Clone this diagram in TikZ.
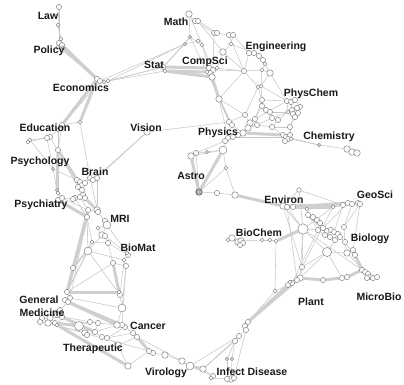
\documentclass[tikz,border=0pt]{standalone}
\usepackage{fontspec}
\setmainfont{Liberation Sans}
\pgfdeclarelayer{bg}
\pgfsetlayers{bg,main}

\begin{document}
\begin{tikzpicture}[x=1pt, y=-1pt, every node/.style={font=\bfseries\fontsize{10.5}{12}\selectfont}]
\tikzstyle{dot}=[circle, draw=black!45, fill=white, line width=0.55pt, inner sep=0pt]
\tikzstyle{link}=[draw=black!22, line width=0.55pt]
\tikzstyle{bund}=[draw=black!19, line width=3pt]
\tikzstyle{lbl}=[text=black!90, inner sep=0pt]
\useasboundingbox (0,0) rectangle (404,384);
\foreach \n/\x/\y/\d in {
  law1/59/7/4, law2/58/25/3,
  pol1/61/39/3, pol2/59/43/4, pol3/62/45/4, pol4/58/47/3, pol5/63/48/3,
  eco1/97/79/4, eco2/100/81/4, eco3/104/82/3, eco4/108/81/3,
  sta1/163/67/4, sta2/165/71/3,
  mat1/189/14/5, mat2/195/21/4, mat3/198/21/4, mat4/190/37/2.5, mat5/185/44/2.5, mat6/198/41/3, mat7/202/45/3,
  top1/214/33/4, top2/217/33/4, top3/229/35/4, top4/233/35/4, top5/231/44/3, top6/223/52/5,
  cs1/209/68/4, cs2/213/70/4, cs3/210/73/4, cs4/212/77/5, cs5/217/68/3, cs6/207/72/3,
  eng1/249/53/4, eng2/254/53/4, eng3/259/56/4, eng4/263/60/4, eng5/265/64/3, eng6/262/70/3, eng7/244/71/4, eng8/270/73/5,
  mid1/258/87/3, mid2/261/86/3, mid3/219/99/5, mid4/262/100/4, mid5/262/106/4, mid6/266/110/4, mid7/270/112/4,
  pc1/287/101/4, pc2/291/102/4, pc3/295/100/4, pc4/300/107/4, pc5/297/108/4, pc6/292/110/4, pc7/293/114/4, pc8/298/113/4, pc9/295/117/4, pc10/288/112/3,
  ph1/245/115/4, ph2/250/123/5, ph3/255/119/4, ph4/248/128/5, ph5/257/125/4, ph6/243/133/5, ph7/238/135/4, ph8/233/137/4, ph9/228/138/4, ph10/225/141/4, ph11/229/122/4, ph12/232/125/4, ph13/223/150/6, ph14/272/118/4, ph15/278/120/4, ph16/272/127/4, ph17/290/127/4, ph18/207/152/2.5, ph19/226/168/3,
  ch1/283/135/4, ch2/286/137/4, ch3/290/135/4, ch4/288/139/4, ch5/285/141/4, ch6/291/139/3, ch7/319/145/2.5, ch8/347/149/5, ch9/352/152/5, ch10/357/153/5,
  vis1/147/132/5,
  ast1/191/156/5, ast2/196/153/4, ast4/217/193/4, ast5/235/195/5,
  env1/299/190/3.5, env2/283/206/5, env3/287/207/4, env4/293/207/4, env5/307/209/3, env6/308/215/4, env7/313/217/4, env8/317/220/4, env9/320/223/4,
  geo1/333/207/3, geo2/343/205/4, geo3/348/203/4, geo4/352/204/4, geo5/358/203/4, geo6/360/204/4, geo7/344/227/4,
  bio1/303/229/8, bio2/323/228/4, bio3/327/231/4, bio4/331/230/4, bio5/334/232/4, bio6/338/234/4, bio7/330/237/4, bio8/325/235/4, bio9/335/240/4, bio10/340/237/4, bio11/345/242/4, bio12/327/252/7, bio13/347/253/5, bio14/353/250/4, bio15/355/255/4, bio16/318/230/4,
  mic1/362/270/4, mic2/365/272/4, mic3/368/274/4, mic4/370/277/4, mic5/373/278/4, mic6/367/278/4, mic7/377/277/4, mic8/342/278/4, mic9/347/277/4, mic10/323/280/4,
  pl1/302/267/4, pl2/300/278/5, pl3/297/280/4, pl4/292/283/4, pl5/288/285/4, pl6/290/282/3,
  bc1/228/240/3, bc2/232/238/5, bc3/238/242/5, bc4/241/241/5, bc5/243/243/4, bc6/240/245/4, bc7/262/240/3, bc8/270/240/3, bc9/276/241/3, bc10/275/291/3,
  inf1/248/322/4, inf2/245/326/4, inf3/246/330/4, inf4/239/336/4, inf13/235/341/4, inf5/232/359/2.5, inf6/227/359/2.5, inf7/203/369/5, inf8/213/376/4, inf12/211/378/3, inf9/231/379/5, inf10/227/379/4, inf11/234/378/4,
  vir1/190/366/6, vir2/182/361/5, vir3/165/355/5, vir4/153/353/4, vir5/149/351/4, vir6/128/366/5, vir7/118/345/5,
  can1/137/337/4, can2/133/333/4, can3/125/327/4, can4/122/325/4, can5/117/325/5, can6/122/308/6, can7/120/295/4, can8/119/292/3,
  bm1/113/263/4, bm2/126/266/4, bm3/124/260/3, bm4/128/255/4, bm5/127/253/3,
  th1/107/338/4, th2/102/337/4, th3/98/323/4, th4/90/322/4, th5/79/326/7, th6/85/333/5, th7/87/335/4, th8/95/332/4,
  gm1/73/268/4, gm2/88/251/6, gm3/67/292/4, gm4/70/298/4, gm5/65/300/4, gm6/68/302/4, gm7/60/310/4, gm8/57/315/4, gm9/62/317/4, gm10/50/318/5, gm11/42/318/4, gm12/40/322/4, gm13/48/323/5, gm14/55/323/4, gm15/57/325/3,
  mri1/88/210/4, mri2/97/210/5, mri3/98/212/4, mri4/87/217/4, mri5/105/221/4, mri6/107/225/6, mri7/98/228/3, mri8/102/235/5, mri9/105/236/4, mri10/108/243/4, mri11/92/242/3,
  br1/77/180/4, br2/80/182/4, br3/82/185/4, br4/78/187/4, br5/85/183/4, br6/90/178/4, br7/93/180/4, br8/97/178/4, br9/82/190/4, br10/83/195/4, br11/80/197/4, br12/75/198/4, br13/73/199/4, br14/85/198/4,
  psy1/58/200/4, psy2/62/198/4, psy3/57/190/2.5, psy4/58/193/3, psy5/53/169/2.5,
  edu1/80/122/3, edu2/62/125/4, edu3/58/130/3, edu4/50/137/4, edu5/47/138/4, edu6/30/140/3, edu7/28/142/3, edu8/58/150/4}
  \node[dot, minimum size=1.3*\d] (\n) at (\x,\y) {};
\node[dot, minimum size=6.5, draw=black!70, fill=black!30] (ast3) at (199,192) {};

\begin{pgfonlayer}{bg}
\foreach \a/\b in {
  law1/law2, law2/pol1, law1/pol2, law2/pol3, pol1/pol2, pol2/pol3, pol3/pol5, pol4/pol2, pol4/eco2,
  eco1/eco2, eco2/eco3, eco3/eco4, eco4/sta1, eco3/sta1, eco4/sta2, eco2/mat5, eco4/mat5,
  sta1/sta2, sta1/mat4, sta1/mat5,
  mat1/mat2, mat2/mat3, mat1/mat4, mat4/mat5, mat5/mat6, mat6/mat7, mat4/mat7, mat2/top1, mat3/top2, mat3/top6, mat7/cs1, mat1/cs2, mat4/cs6,
  top1/top2, top2/top3, top3/top4, top4/top5, top5/top6, top6/cs5, top1/cs2, top4/eng1, top5/eng2, top3/eng7, top6/eng7,
  cs1/cs2, cs2/cs3, cs3/cs4, cs4/cs6, cs5/cs2, cs1/cs6, cs3/mid3, cs5/eng7, cs2/eng7, cs4/ph11, cs6/ph12,
  eng1/eng2, eng2/eng3, eng3/eng4, eng4/eng5, eng5/eng6, eng6/eng8, eng7/eng6, eng7/mid1, eng6/mid2, eng8/mid2, eng5/eng8, eng8/pc1, eng7/mid3, eng1/eng7,
  mid1/mid2, mid1/mid4, mid2/mid4, mid4/mid5, mid5/mid6, mid6/mid7, mid3/ph11, mid3/ph1, mid3/ph12, mid1/ph1, mid4/ph3, mid5/ph3, mid7/pc10, mid7/ph14, mid4/pc1, mid2/pc1,
  pc1/pc2, pc2/pc3, pc3/pc4, pc4/pc5, pc5/pc6, pc6/pc7, pc7/pc8, pc8/pc9, pc9/pc10, pc10/pc1, pc2/pc6, pc9/ph17, pc7/ch3, pc10/ph15, ph3/pc1, ph14/pc10,
  ph1/ph2, ph2/ph3, ph3/ph5, ph2/ph4, ph4/ph5, ph4/ph6, ph6/ph7, ph7/ph8, ph8/ph9, ph9/ph10, ph10/ph13, ph11/ph12, ph12/ph9, ph12/ph6, ph5/ph14, ph14/ph15, ph15/ph16, ph16/ph17, ph16/ch1, ph17/ch3, ph5/ph16, ph8/ch2,
  ph13/ph19, ph13/ast1, ph18/ph13, ph18/ast2, ph10/ast2, vis1/ph11, ph11/ph1, ph2/ph6, mid3/ph9,
  ch1/ch2, ch2/ch3, ch3/ch4, ch4/ch5, ch5/ch1, ch4/ch6, ch6/ch7, ch7/ch8, ch2/ch7, ch8/ch9, ch9/ch10,
  vis1/br8, vis1/br7,
  ast1/ast2, ast2/ast3, ast3/ast4, ast4/ast5, ph19/ast5, ph19/ast3, ast5/env3,
  env1/env2, env1/geo2, env1/bio1, env2/env3, env3/env4, env4/env5, env5/env6, env6/env7, env7/env8, env8/env9, env4/geo1, env5/geo1, env2/bio1, env3/bio1, env9/bio2, env6/bio16,
  geo1/geo2, geo2/geo3, geo3/geo4, geo4/geo5, geo5/geo6, geo4/geo7, geo6/geo7, geo2/bio5, geo3/bio2, geo7/bio11, geo6/bio14, geo1/bio1,
  bio2/bio3, bio3/bio4, bio4/bio5, bio5/bio6, bio6/bio10, bio10/bio11, bio11/bio13, bio13/bio14, bio14/bio15, bio7/bio8, bio8/bio16, bio16/bio2, bio7/bio9, bio9/bio10, bio3/bio7,
  bio1/bio16, bio1/bio12, bio12/bio9, bio12/bio13, bio1/pl1, bio1/pl2, bio12/pl2, bio12/mic8, bio13/mic2, bio11/mic3, bio1/mic1, env2/pl1, env3/pl3, geo1/pl1, bio16/pl4, bio12/pl1,
  mic1/mic2, mic2/mic3, mic3/mic4, mic4/mic5, mic5/mic7, mic6/mic3, mic6/mic4, mic8/mic9,
  pl1/pl2, pl2/pl3, pl3/pl4, pl4/pl5, pl5/pl6, pl6/pl2,
  bc1/bc2, bc2/bc3, bc3/bc4, bc4/bc5, bc5/bc6, bc6/bc3, bc4/bc7, bc7/bc8, bc8/bc9, bc9/bc10, bc10/pl5, bc10/inf1,
  inf1/inf2, inf3/inf4, inf4/inf13, inf13/inf5, inf5/inf9, inf6/inf10, inf13/inf6, inf4/inf7, inf13/inf7, inf7/inf8, inf8/inf12, inf12/inf10, inf10/inf9, inf9/inf11, inf11/inf3,
  vir1/inf8, vir1/inf4, vir1/vir2, vir2/vir3, vir3/vir4, vir4/vir5, vir4/can2, vir6/vir7, vir6/vir5, vir7/th1, vir7/can1, vir2/can1,
  can1/can2, can2/can3, can3/can4, can4/can5, can5/can6, can6/can7, can7/can8, can6/bm2, can7/bm3, can4/bm2, can3/th1, can5/th8, can5/th3, can2/th1,
  bm1/bm2, bm2/bm3, bm3/bm4, bm4/bm5, bm5/mri9, bm4/mri10, bm1/mri10, bm5/mri6,
  th1/th2, th2/th8, th8/th7, th7/th6, th6/th5, th5/th4, th4/th3, th3/th8,
  gm1/gm2, gm2/gm3, gm1/gm3, gm3/gm4, gm4/gm5, gm5/gm6, gm6/gm7, gm7/gm8, gm8/gm9, gm9/gm10, gm10/gm11, gm11/gm12, gm12/gm13, gm13/gm14, gm14/gm15, gm15/gm9,
  gm4/can6, gm2/can7, gm3/bm1, gm2/bm3, gm9/th3, gm13/th6, gm15/th4, gm12/th5, gm13/vir5,
  gm1/mri11, gm2/mri4, gm3/mri11, gm1/mri8, gm4/mri4,
  mri1/mri2, mri2/mri3, mri3/mri5, mri5/mri6, mri6/mri7, mri7/mri8, mri8/mri9, mri9/mri10, mri10/mri11, mri11/mri4, mri4/mri1, mri8/mri6,
  br1/br2, br2/br3, br3/br4, br4/br1, br3/br5, br5/br6, br6/br7, br7/br8, br3/br9, br9/br10, br10/br11, br11/br12, br12/br13, br10/br14, br11/mri1, br13/psy2, br12/mri4, br8/mri2, br6/mri3,
  psy1/psy2, psy2/psy4, psy4/psy3, psy3/psy5, psy2/mri1, psy5/br1,
  edu1/edu2, edu2/edu3, edu3/edu4, edu4/edu5, edu5/edu6, edu6/edu7, edu7/edu4, edu2/edu8, edu3/edu8, edu5/psy5, edu4/br4, edu1/br6, edu8/psy4, edu6/psy5, eco2/edu3}
  \draw[link] (\a) -- (\b);
\foreach \a/\b in {
  pol5/eco1, pol3/eco1, sta1/cs1, sta2/cs4, sta2/cs6, cs4/mid3, ph6/ch1, ast1/ast3, ph13/ast3, ast5/env2, env2/geo2, env4/geo3, env6/bio2, env3/geo1,
  bio1/bc9, bio15/mic1, mic9/mic1, mic10/mic8, pl2/mic10, pl5/inf1, pl3/inf1, inf2/inf3, vir1/inf7, vir5/can1, bm1/can8,
  gm3/can8, gm6/can5, gm6/can4, gm9/th8, gm14/th5, gm15/vir6, gm3/mri1, gm3/mri4, br14/mri2, psy1/mri4, edu8/br1, edu8/psy3, eco1/edu1, eco1/edu2}
  \draw[bund] (\a) -- (\b);
\end{pgfonlayer}

\foreach \t/\x/\y in {Law/48/16, Policy/49/51, Economics/81/88, Stat/154/65, Math/176/22, CompSci/205/62,
  Engineering/276/47, PhysChem/311/94, Physics/218/133, Chemistry/329/137, Vision/146/128, Education/45/128,
  Psychology/40/162, Brain/95/172, Astro/191/176, Psychiatry/41/205, MRI/120/219, Environ/284/200, GeoSci/375/195,
  BioChem/259/233, Biology/370/239, BioMat/138/248, General/39/300, Medicine/42/313, Cancer/148/326,
  Therapeutic/93/349, Virology/166/373, Plant/311/302, MicroBio/379/297}
  \node[lbl] (l\t) at (\x,\y) {\t};
\node[lbl] (lInfect) at (252,372) {Infect Disease};
\end{tikzpicture}
\end{document}
